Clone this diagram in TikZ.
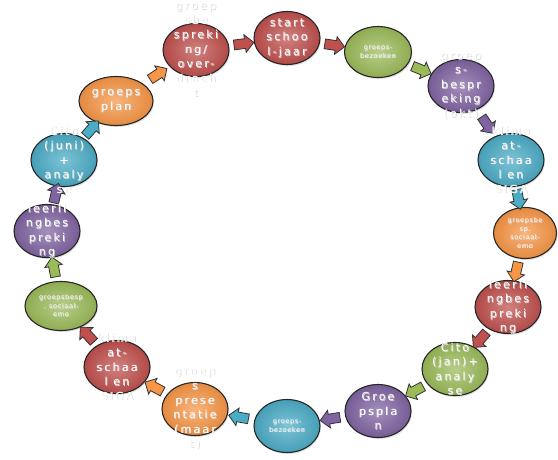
\documentclass[tikz,border=0pt]{standalone}
\usepackage{fontspec}
\setmainfont{DejaVu Sans}
\newfontfamily\lblfont[LetterSpace=20]{DejaVu Sans}
\newfontfamily\tinyfont[LetterSpace=10]{DejaVu Sans}
\usetikzlibrary{shapes.geometric,shapes.arrows,shadows}
\definecolor{cred}{RGB}{192,80,77}
\definecolor{cgreen}{RGB}{155,187,89}
\definecolor{cpurple}{RGB}{128,100,162}
\definecolor{cblue}{RGB}{75,172,198}
\definecolor{corange}{RGB}{247,150,70}
\newcommand\gl[1]{\makebox[0pt]{\textcolor{black!15}{\raisebox{-0.8pt}[0pt][0pt]{\kern1.6pt#1}}}\makebox[0pt]{#1}}
\begin{document}
\begin{tikzpicture}[x=1pt,y=-1pt,
  bub/.style={ellipse, draw=black!85, line width=1.1pt, minimum width=66pt, minimum height=53pt,
    inner color=#1!72!white, outer color=#1!92!black,
    drop shadow={shadow xshift=1pt, shadow yshift=-1.5pt, opacity=0.25}},
  lbl/.style={text=white, align=center, font=\lblfont\fontsize{11}{14.5}\selectfont, inner sep=0pt},
  tiny/.style={text=white, align=center, font=\tinyfont\fontsize{6.5}{8.5}\selectfont, inner sep=0pt},
  arr/.style={single arrow, draw=black!80, line width=0.8pt, fill=#1, minimum height=20pt,
    inner sep=4.5pt, single arrow head extend=4pt, single arrow head indent=0pt,
    sloped, allow upside down}]
\useasboundingbox (0,0) rectangle (558,459);
% bubbles
\node[bub=cred] (n1) at (196,50) {};
\node[bub=cred] (n2) at (287,38) {};
\node[bub=cgreen, minimum width=67pt, minimum height=51pt] (n3) at (378,52) {};
\node[bub=cpurple] (n4) at (461,86) {};
\node[bub=cblue] (n5) at (511,160) {};
\node[bub=corange, minimum width=63pt, minimum height=51pt] (n6) at (525,233) {};
\node[bub=cred] (n7) at (508,307) {};
\node[bub=cgreen] (n8) at (455,369) {};
\node[bub=cpurple] (n9) at (378,411) {};
\node[bub=cblue] (n10) at (287,426) {};
\node[bub=corange] (n11) at (195,409) {};
\node[bub=cred] (n12) at (117,367) {};
\node[bub=cgreen, minimum width=72pt, minimum height=49pt] (n13) at (61,306) {};
\node[bub=cpurple] (n14) at (47,231) {};
\node[bub=cblue] (n15) at (64,160) {};
\node[bub=corange, minimum width=74pt, minimum height=49pt] (n16) at (116,101) {};
% connectors
\path (n1) -- node[arr=cred] (a1) {} (n2);
\path (n2) -- node[arr=cred] (a2) {} (n3);
\path (n3) -- node[arr=cgreen] (a3) {} (n4);
\path (n4) -- node[arr=cpurple] (a4) {} (n5);
\path (n5) -- node[arr=cblue] (a5) {} (n6);
\path (n6) -- node[arr=corange] (a6) {} (n7);
\path (n7) -- node[arr=cred] (a7) {} (n8);
\path (n8) -- node[arr=cgreen] (a8) {} (n9);
\path (n9) -- node[arr=cpurple] (a9) {} (n10);
\path (n10) -- node[arr=cblue] (a10) {} (n11);
\path (n11) -- node[arr=corange] (a11) {} (n12);
\path (n12) -- node[arr=cred] (a12) {} (n13);
\path (n13) -- node[arr=cgreen] (a13) {} (n14);
\path (n14) -- node[arr=cpurple] (a14) {} (n15);
\path (n15) -- node[arr=cblue] (a15) {} (n16);
\path (n16) -- node[arr=corange] (a16) {} (n1);
% labels
\node[lbl] (t1) at (n1) {\gl{groep}\\\gl{sbe}\\\gl{spreki}\\\gl{ng/}\\\gl{over-}\\\gl{drach}\\\gl{t}};
\node[lbl] (t2) at (n2) {\gl{start}\\\gl{schoo}\\\gl{l-jaar}};
\node[tiny] (t3) at (n3) {\gl{groeps-}\\\gl{bezoeken}};
\node[lbl] (t4) at (n4) {\gl{groep}\\\gl{s-}\\\gl{bespr}\\\gl{eking}\\\gl{(okt)}};
\node[lbl] (t5) at (n5) {\gl{klima}\\\gl{at-}\\\gl{schaa}\\\gl{l en}\\\gl{SIGA}};
\node[tiny] (t6) at (n6) {\gl{groepsbe}\\\gl{sp.}\\\gl{sociaal-}\\\gl{emo}};
\node[lbl] (t7) at (n7) {\gl{leerli}\\\gl{ngbes}\\\gl{preki}\\\gl{ng}};
\node[lbl] (t8) at (n8) {\gl{Cito}\\\gl{(jan)+}\\\gl{analy}\\\gl{se}};
\node[lbl] (t9) at (n9) {\gl{Groe}\\\gl{pspla}\\\gl{n}};
\node[tiny] (t10) at (n10) {\gl{groeps-}\\\gl{bezoeken}};
\node[lbl] (t11) at (n11) {\gl{groep}\\\gl{s}\\\gl{prese}\\\gl{ntatie}\\\gl{(maar}\\\gl{t)}};
\node[lbl] (t12) at (n12) {\gl{klima}\\\gl{at-}\\\gl{schaa}\\\gl{l en}\\\gl{SIGA}};
\node[tiny] (t13) at (n13) {\gl{groepsbesp}\\\gl{. sociaal-}\\\gl{emo}};
\node[lbl] (t14) at (n14) {\gl{leerli}\\\gl{ngbes}\\\gl{preki}\\\gl{ng}};
\node[lbl] (t15) at (n15) {\gl{Cito}\\\gl{(juni)}\\\gl{+}\\\gl{analy}\\\gl{se}};
\node[lbl] (t16) at (n16) {\gl{groeps}\\\gl{plan}};
\end{tikzpicture}
\end{document}
